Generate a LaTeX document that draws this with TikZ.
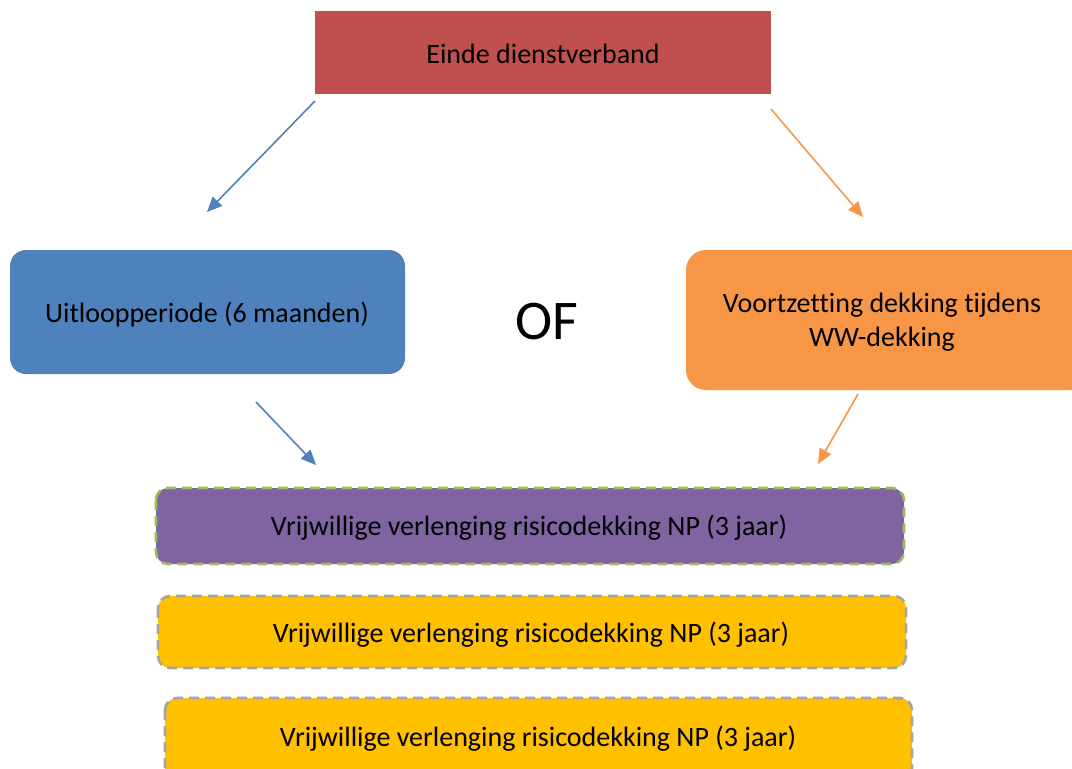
\documentclass[tikz,border=0pt]{standalone}
\usepackage{fontspec}
\setmainfont{Carlito}[Ligatures=NoCommon]
\usetikzlibrary{arrows.meta}
\definecolor{cred}{HTML}{C0504D}
\definecolor{cblue}{HTML}{4F81BD}
\definecolor{corange}{HTML}{F79646}
\definecolor{cpurple}{HTML}{8064A2}
\definecolor{cgreen}{HTML}{9BBB59}
\definecolor{cyellow}{HTML}{FFC000}
\definecolor{cgray}{HTML}{A5A5A5}
\begin{document}
\begin{tikzpicture}[x=1pt,y=-1pt,
  lbl/.style={font=\fontsize{28}{34}\selectfont, text=black},
  dashbox/.style={line width=2.6pt, dash pattern=on 10pt off 6pt, rounded corners=12pt},
  arr/.style={line width=1.6pt, -{Triangle[length=15pt,width=13pt]}}]
\useasboundingbox (0,0) rectangle (1072,769);
% boxes
\fill[cred] (315,11) rectangle (771,94);
\node[lbl] (red) at (543,54) {Einde dienstverband};
\fill[cblue, rounded corners=16pt] (10,250) rectangle (405,374);
\node[lbl] (blue) at (207,315) {Uitloopperiode (6 maanden)};
\fill[corange, rounded corners=20pt] (686,250) rectangle (1090,390);
\node[lbl, align=center] (orange) at (882,322) {Voortzetting dekking tijdens\\WW-dekking};
\node[font=\fontsize{56}{62}\selectfont] (of) at (547,322) {OF};
\filldraw[cpurple, draw=cgreen, dashbox] (156,488) rectangle (904,564);
\node[lbl] (np1) at (529,528) {Vrijwillige verlenging risicodekking NP (3 jaar)};
\filldraw[cyellow, draw=cgray, dashbox] (158,596) rectangle (906,668);
\node[lbl] (np2) at (531,635) {Vrijwillige verlenging risicodekking NP (3 jaar)};
\filldraw[cyellow, draw=cgray, dashbox] (165,698) rectangle (912,790);
\node[lbl] (np3) at (538,739) {Vrijwillige verlenging risicodekking NP (3 jaar)};
% arrow coordinates
\coordinate (a1s) at (315,101);
\coordinate (a1e) at (207,212);
\coordinate (a2s) at (771,109);
\coordinate (a2e) at (863,217);
\coordinate (a3s) at (256,402);
\coordinate (a3e) at (316,465);
\coordinate (a4s) at (858,394);
\coordinate (a4e) at (818,464);
\draw[arr, cblue] (a1s) -- (a1e);
\draw[arr, corange] (a2s) -- (a2e);
\draw[arr, cblue] (a3s) -- (a3e);
\draw[arr, corange] (a4s) -- (a4e);
\end{tikzpicture}
\end{document}
